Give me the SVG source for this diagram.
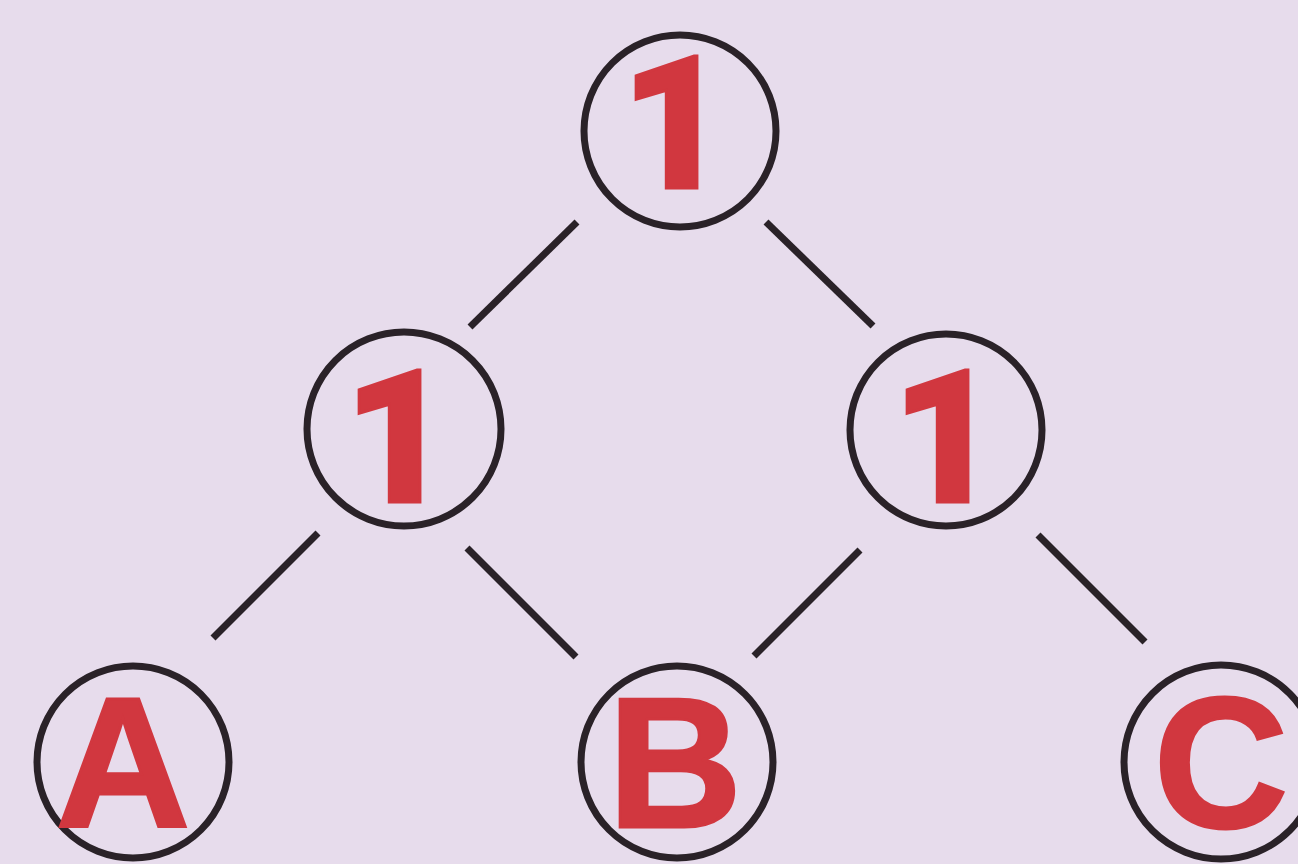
<svg xmlns="http://www.w3.org/2000/svg" width="1298" height="864" viewBox="0 0 1298 864">
<style>
.node circle{fill:none;stroke:#2a2228;stroke-width:7}
.node text{font-weight:bold;font-size:186px;fill:#d1373f;text-anchor:middle;stroke:#d1373f;stroke-width:3}
.node text.d{font-family:Roboto,"Liberation Sans",Arial,sans-serif;font-weight:900}
.node text.l{font-family:"Liberation Sans",Arial,sans-serif}
.edges line{stroke:#2a2228;stroke-width:7;stroke-linecap:butt}
</style>
<rect width="1298" height="864" fill="#e7dcec"/>
<g class="edges" id="connectors">
<line x1="577" y1="222" x2="470" y2="327"/>
<line x1="766" y1="222" x2="873" y2="326"/>
<line x1="318" y1="533" x2="213" y2="638"/>
<line x1="467" y1="548" x2="576" y2="657"/>
<line x1="860" y1="550" x2="754" y2="656"/>
<line x1="1038" y1="535" x2="1145" y2="642"/>
</g>
<g class="node" id="n_top"><circle cx="680" cy="131" r="96"/><text class="d" x="675" y="188">1</text></g>
<g class="node" id="n_left"><circle cx="404" cy="429" r="97"/><text class="d" x="398" y="502">1</text></g>
<g class="node" id="n_right"><circle cx="946" cy="430" r="96"/><text class="d" x="946" y="502">1</text></g>
<g class="node" id="n_A"><circle cx="133" cy="762" r="96"/><text class="l" x="123" y="827">A</text></g>
<g class="node" id="n_B"><circle cx="677" cy="762" r="96"/><text class="l" x="675" y="827">B</text></g>
<g class="node" id="n_C"><circle cx="1221" cy="762" r="97"/><text class="l" x="1221" y="827">C</text></g>
</svg>
